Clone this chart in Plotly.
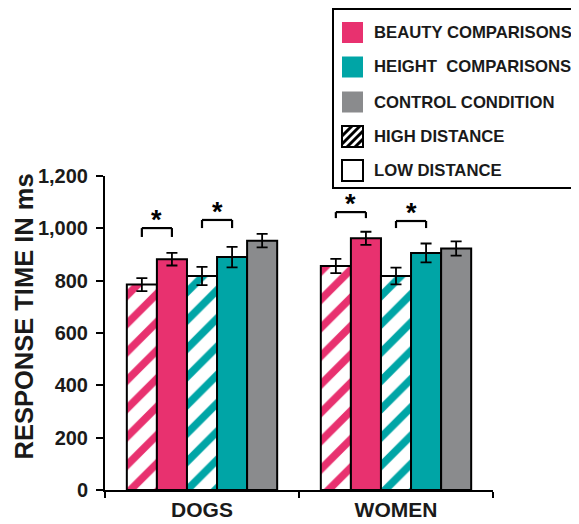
import plotly.graph_objects as go

# ---------------- data ----------------
categories = ["DOGS", "WOMEN"]
series_names = ["Beauty - high distance", "Beauty - low distance",
                "Height - high distance", "Height - low distance",
                "Control condition"]
beauty_high = [785, 856]
beauty_high_err = [25, 27]
beauty_low = [882, 962]
beauty_low_err = [24, 25]
height_high = [818, 818]
height_high_err = [35, 32]
height_low = [890, 906]
height_low_err = [39, 36]
control = [953, 923]
control_err = [26, 27]

# significance brackets: (category index, bar i, bar j, top value, end value)
brackets = [
    (0, 0, 1, 1001, 967),
    (0, 2, 3, 1032, 1001),
    (1, 0, 1, 1062, 1039),
    (1, 2, 3, 1028, 1001),
]

legend_labels = ["BEAUTY COMPARISONS", "HEIGHT  COMPARISONS", "CONTROL CONDITION",
                 "HIGH DISTANCE", "LOW DISTANCE"]
y_ticks = [0, 200, 400, 600, 800, 1000, 1200]

# ---------------- style ----------------
PINK = "#E8316F"
TEAL = "#00A5A6"
GREY = "#8A8B8D"
FONT = "Liberation Sans, Arial, Helvetica, sans-serif"

# the page body adds an 8px offset; work in window pixels and compensate
OFF = 8
WIN_W, WIN_H = 579, 524
W, H = WIN_W - OFF, WIN_H - OFF
# plot area in window pixels
PX0, PX1, PY0, PY1 = 105, 493, 176, 490
ML, MR, MT, MB = PX0 - OFF, WIN_W - PX1, PY0 - OFF, WIN_H - PY1
PW, PH = PX1 - PX0, PY1 - PY0

BARGAP = 0.225
NB = 5
BW = (1 - BARGAP) / NB


def bar_center(cat, i):
    return cat - (1 - BARGAP) / 2 + BW * (i + 0.5)


def px(xp):
    return (xp - PX0) / PW


def py(yp):
    return (PY1 - yp) / PH


values = [beauty_high, beauty_low, height_high, height_low, control]
errors = [beauty_high_err, beauty_low_err, height_high_err, height_low_err, control_err]
colors = [PINK, PINK, TEAL, TEAL, GREY]
hatched = [True, False, True, False, False]

fig = go.Figure()
for name, v, e, c, h in zip(series_names, values, errors, colors, hatched):
    marker = dict(color=c, line=dict(color="black", width=2))
    if h:
        marker["pattern"] = dict(shape="/", fgcolor=c, bgcolor="white",
                                 size=20, solidity=0.38, fillmode="replace")
    fig.add_trace(go.Bar(
        x=categories, y=v, name=name, marker=marker,
        error_y=dict(type="data", array=e, color="black", thickness=1.8, width=5.5),
        showlegend=False,
    ))

shapes = []
annotations = []
for cat, i, j, top, end in brackets:
    x0, x1 = bar_center(cat, i), bar_center(cat, j)
    ln = dict(color="black", width=2.2)
    shapes += [
        dict(type="line", xref="x", yref="y", x0=x0, x1=x1, y0=top, y1=top, line=ln),
        dict(type="line", xref="x", yref="y", x0=x0, x1=x0, y0=top, y1=end, line=ln),
        dict(type="line", xref="x", yref="y", x0=x1, x1=x1, y0=top, y1=end, line=ln),
    ]
    annotations.append(dict(
        x=(x0 + x1) / 2, y=top, xref="x", yref="y", text="<b>*</b>",
        showarrow=False, yanchor="bottom", yshift=-9,
        font=dict(family=FONT, size=27, color="black")))

# ---------------- custom legend ----------------
LX0, LY0, LX1, LY1 = 333, 9, 578, 188
shapes.append(dict(type="rect", xref="paper", yref="paper",
                   x0=px(LX0), x1=px(LX1), y0=py(LY1), y1=py(LY0),
                   line=dict(color="black", width=2), fillcolor="white", layer="above"))
centers = [32.5, 67, 102, 136.5, 170.5]
SW = 21
SX0 = 342
swatch_fill = [PINK, TEAL, GREY, "white", "white"]
for k, (lab, cy) in enumerate(zip(legend_labels, centers)):
    y_top, y_bot = cy - SW / 2, cy + SW / 2
    border = dict(color="black", width=2) if k >= 3 else dict(width=0)
    shapes.append(dict(type="rect", xref="paper", yref="paper",
                       x0=px(SX0), x1=px(SX0 + SW), y0=py(y_bot), y1=py(y_top),
                       fillcolor=swatch_fill[k], line=border, layer="above"))
    if k == 3:
        for d in [-13, -5, 3, 11]:
            u0, u1 = max(0, -d), min(SW, SW - d)
            shapes.append(dict(type="line", xref="paper", yref="paper",
                               x0=px(SX0 + u0), y0=py(y_bot - (u0 + d)),
                               x1=px(SX0 + u1), y1=py(y_bot - (u1 + d)),
                               line=dict(color="black", width=3), layer="above"))
    annotations.append(dict(
        x=px(371.5), y=py(cy), xref="paper", yref="paper", text=lab,
        xanchor="left", yanchor="middle", showarrow=False,
        font=dict(family=FONT, size=16.7, color="#1a1a1a", weight="bold")))

# y axis title
annotations.append(dict(
    x=px(23.5), y=py(317), xref="paper", yref="paper", text="RESPONSE TIME IN ms",
    textangle=-90, showarrow=False, xanchor="center", yanchor="middle",
    font=dict(family=FONT, size=25.5, color="#1a1a1a", weight="bold")))

fig.update_layout(
    width=W, height=H,
    margin=dict(l=ML, r=MR, t=MT, b=MB, pad=0, autoexpand=False),
    paper_bgcolor="white", plot_bgcolor="white",
    barmode="group", bargap=BARGAP, bargroupgap=0,
    showlegend=False,
    shapes=shapes, annotations=annotations,
    font=dict(family=FONT, color="#1a1a1a"),
)
fig.update_xaxes(
    type="category", range=[-0.5, 1.5], tickson="boundaries", automargin=False,
    ticks="outside", ticklen=6, tickwidth=2, tickcolor="black",
    showline=True, linecolor="black", linewidth=2, showgrid=False,
    tickfont=dict(family=FONT, size=21, color="#1a1a1a", weight="bold"),
)
fig.update_yaxes(
    range=[0, 1200], tickvals=y_ticks, tickformat=",", automargin=False,
    ticks="outside", ticklen=7, tickwidth=2, tickcolor="black", ticklabelstandoff=4,
    showline=True, linecolor="black", linewidth=2, showgrid=False, zeroline=False,
    tickfont=dict(family=FONT, size=20, color="#1a1a1a", weight="bold"),
)

fig.write_html("out.html")
